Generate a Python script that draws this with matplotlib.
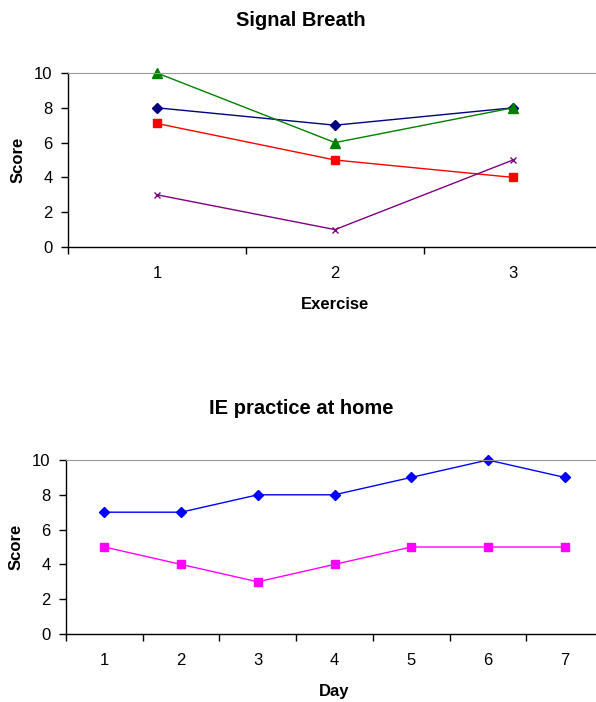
import numpy as np
import matplotlib.pyplot as plt

plt.rcParams['font.family'] = ['Liberation Sans', 'DejaVu Sans']

# datos del primer grafico
ejercicios = ['1', '2', '3']
serie_azul = [8, 7, 8]
serie_roja = [7.1, 5, 4]
serie_verde = [10, 6, 8]
serie_morada = [3, 1, 5]

# datos del segundo grafico
dias = ['1', '2', '3', '4', '5', '6', '7']
casa_azul = [7, 7, 8, 8, 9, 10, 9]
casa_magenta = [5, 4, 3, 4, 5, 5, 5]

fig = plt.figure(figsize=(5.96, 7.02), dpi=100)


def estilo_ejes(ax, n, etiquetas, xlabel):
    ax.set_xlim(0.5, n + 0.5)
    ax.set_ylim(0, 10)
    ax.set_yticks(range(0, 11, 2))
    ax.set_xticks(range(1, n + 1))
    ax.set_xticklabels(etiquetas)
    ax.set_xticks(np.arange(0.5, n + 1, 1), minor=True)
    ax.tick_params(axis='x', which='major', length=0, pad=14, labelsize=12)
    ax.tick_params(axis='x', which='minor', length=5, direction='out', width=1)
    ax.tick_params(axis='y', length=5, direction='out', width=1, labelsize=12, pad=6)
    ax.spines['right'].set_visible(False)
    ax.spines['top'].set_color('#999999')
    ax.spines['left'].set_linewidth(1)
    ax.spines['bottom'].set_linewidth(1)
    ax.set_ylabel('Score', fontsize=12, fontweight='bold', labelpad=6)
    ax.set_xlabel(xlabel, fontsize=12, fontweight='bold', labelpad=11)


# Grafico 1: Signal Breath
ax1 = fig.add_axes([68 / 596, 1 - 247 / 702, 534 / 596, 174 / 702])
x1 = np.arange(1, 4)
ax1.plot(x1, serie_azul, color='#000080', marker='D', markersize=5, lw=1, clip_on=False)
ax1.plot(x1, serie_roja, color='#FF0000', marker='s', markersize=6, lw=1, clip_on=False)
ax1.plot(x1, serie_verde, color='#008000', marker='^', markersize=7, lw=1, clip_on=False)
ax1.plot(x1, serie_morada, color='#800080', marker='x', markersize=5, lw=1, mew=1, clip_on=False)
estilo_ejes(ax1, 3, ejercicios, 'Exercise')
fig.text(0.505, 1 - 20 / 702, 'Signal Breath', ha='center', va='center',
         fontsize=14.5, fontweight='bold')

# Grafico 2: IE practice at home
ax2 = fig.add_axes([66 / 596, 1 - 634 / 702, 537 / 596, 174 / 702])
x2 = np.arange(1, 8)
ax2.plot(x2, casa_azul, color='#0000FF', marker='D', markersize=5, lw=1, clip_on=False)
ax2.plot(x2, casa_magenta, color='#FF00FF', marker='s', markersize=6, lw=1, clip_on=False)
estilo_ejes(ax2, 7, dias, 'Day')
fig.text(0.505, 1 - 408 / 702, 'IE practice at home', ha='center', va='center',
         fontsize=14.5, fontweight='bold')

plt.savefig('out.png', dpi=100)
